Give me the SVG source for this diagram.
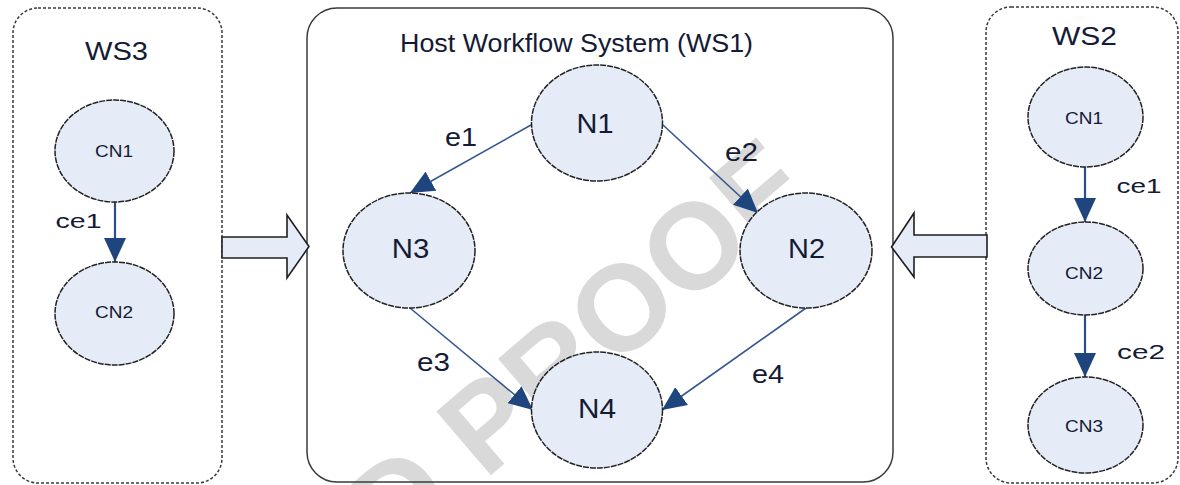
<svg xmlns="http://www.w3.org/2000/svg" width="1180" height="485" viewBox="0 0 1180 485">
<defs>
<style>
.box{fill:none;stroke:#3a3a3a;stroke-width:1.5}
.dash{stroke-dasharray:3 2}
.nd{fill:#e5ecf7;stroke:#222222;stroke-width:1.5;stroke-dasharray:6 1}
.t{font-family:"Liberation Sans",Arial,sans-serif;fill:#151a35;text-anchor:middle}
.big{font-size:28px}
.lbl{font-size:25px}
.cn{font-size:17px}
.edge{stroke:#34578f;stroke-width:1.6;fill:none}
.cedge{stroke:#2c4f8a;stroke-width:2.2;fill:none}
.blk{fill:#e5ecf7;stroke:#1e1e1e;stroke-width:1.6;stroke-linejoin:miter}
</style>
<marker id="ah" markerUnits="userSpaceOnUse" markerWidth="26" markerHeight="22" refX="24" refY="11" orient="auto">
<path d="M0,0 L24,11 L0,22 z" fill="#1f457f"/>
</marker>
</defs>
<rect width="1180" height="485" fill="#ffffff"/>
<g id="watermark">
<text transform="translate(392,560) rotate(-40.6)" font-family="'Liberation Sans',Arial,sans-serif" font-weight="bold" font-size="122" fill="#d9d9d9">D PROOF</text>
</g>
<g id="ws3">
<rect class="box dash" x="13" y="8" width="209" height="475" rx="25"/>
<text class="t lbl" x="116.5" y="60" textLength="63" lengthAdjust="spacingAndGlyphs">WS3</text>
</g>
<g id="ws1">
<rect class="box" x="307" y="8" width="586" height="474" rx="30"/>
<text class="t lbl" x="576.5" y="52" textLength="353" lengthAdjust="spacingAndGlyphs">Host Workflow System (WS1)</text>
</g>
<g id="ws2">
<rect class="box dash" x="986" y="7" width="192" height="476" rx="25" stroke="#555"/>
<text class="t lbl" x="1084.5" y="45" textLength="65" lengthAdjust="spacingAndGlyphs">WS2</text>
</g>
<g id="connectors">
<path class="blk" d="M222,237 L287,237 L287,215 L309,246.5 L287,278 L287,258 L222,258 Z"/>
<path class="blk" d="M987,235 L914,235 L914,213 L891.5,247 L914,277 L914,257 L987,257 Z"/>
<line class="edge" x1="531" y1="125" x2="410" y2="193" marker-end="url(#ah)"/>
<line class="edge" x1="663" y1="125" x2="758" y2="213" marker-end="url(#ah)"/>
<line class="edge" x1="410" y1="308" x2="533" y2="410" marker-end="url(#ah)"/>
<line class="edge" x1="806" y1="308" x2="662" y2="410" marker-end="url(#ah)"/>
<line class="cedge" x1="115" y1="202" x2="115" y2="262" marker-end="url(#ah)"/>
<line class="cedge" x1="1085" y1="167" x2="1085" y2="222" marker-end="url(#ah)"/>
<line class="cedge" x1="1085" y1="315" x2="1085" y2="377" marker-end="url(#ah)"/>
<text class="t lbl" x="461" y="146" textLength="32" lengthAdjust="spacingAndGlyphs">e1</text>
<text class="t lbl" x="741.5" y="161" textLength="33" lengthAdjust="spacingAndGlyphs">e2</text>
<text class="t lbl" x="433.5" y="371" textLength="33" lengthAdjust="spacingAndGlyphs">e3</text>
<text class="t lbl" x="768" y="383" textLength="32" lengthAdjust="spacingAndGlyphs">e4</text>
<text class="t" font-size="21" x="78.5" y="228" textLength="46" lengthAdjust="spacingAndGlyphs">ce1</text>
<text class="t" font-size="21" x="1139" y="192.5" textLength="45" lengthAdjust="spacingAndGlyphs">ce1</text>
<text class="t" font-size="21" x="1141" y="359" textLength="48" lengthAdjust="spacingAndGlyphs">ce2</text>
</g>
<g id="N1"><ellipse class="nd" cx="597" cy="123" rx="65.5" ry="58"/><text class="t big" x="595" y="133" textLength="37" lengthAdjust="spacingAndGlyphs">N1</text></g>
<g id="N3"><ellipse class="nd" cx="409" cy="250.5" rx="66" ry="57.5"/><text class="t big" x="410.5" y="258" textLength="37.5" lengthAdjust="spacingAndGlyphs">N3</text></g>
<g id="N2"><ellipse class="nd" cx="806" cy="250.5" rx="66" ry="57.5"/><text class="t big" x="806.5" y="258" textLength="37" lengthAdjust="spacingAndGlyphs">N2</text></g>
<g id="N4"><ellipse class="nd" cx="597" cy="410" rx="65.5" ry="58"/><text class="t big" x="597" y="418" textLength="38" lengthAdjust="spacingAndGlyphs">N4</text></g>
<g id="WS3-CN1"><ellipse class="nd" cx="114.5" cy="151" rx="59.5" ry="51"/><text class="t cn" x="114" y="157" textLength="38" lengthAdjust="spacingAndGlyphs">CN1</text></g>
<g id="WS3-CN2"><ellipse class="nd" cx="114.5" cy="313.5" rx="59.5" ry="51.5"/><text class="t cn" x="114" y="318" textLength="38" lengthAdjust="spacingAndGlyphs">CN2</text></g>
<g id="WS2-CN1"><ellipse class="nd" cx="1085.5" cy="117" rx="57.5" ry="50"/><text class="t cn" x="1084" y="124" textLength="38" lengthAdjust="spacingAndGlyphs">CN1</text></g>
<g id="WS2-CN2"><ellipse class="nd" cx="1085.5" cy="268.5" rx="57.5" ry="46.5"/><text class="t cn" x="1084" y="279" textLength="38" lengthAdjust="spacingAndGlyphs">CN2</text></g>
<g id="WS2-CN3"><ellipse class="nd" cx="1085.5" cy="425" rx="57.5" ry="48"/><text class="t cn" x="1084" y="431.5" textLength="38" lengthAdjust="spacingAndGlyphs">CN3</text></g>
</svg>
